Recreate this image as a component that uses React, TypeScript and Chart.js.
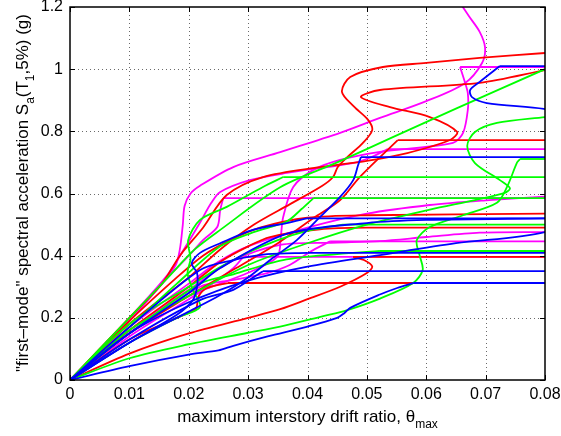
import React, { useEffect, useRef } from 'react';
import { Chart, registerables } from 'chart.js';

Chart.register(...registerables);

type Pt = [number, number];

const X_MIN = 0;
const X_MAX = 0.08;
const X_STEP = 0.01;
const Y_MIN = 0;
const Y_MAX = 1.2;
const Y_STEP = 0.2;

const MAGENTA = '#ff00ff';
const RED = '#ff0000';
const GREEN = '#00ff00';
const BLUE = '#0000ff';

const FONT = '"Liberation Sans", Arial, Helvetica, sans-serif';

const X_TITLE: [string, boolean][] = [['maximum interstory drift ratio, θ', false], ['max', true]];
const Y_TITLE: [string, boolean][] = [
  ['"first\u2013mode" spectral acceleration S', false],
  ['a', true],
  ['(T', false],
  ['1', true],
  [',5%) (g)', false],
];

// ---- magenta records ----
const M_BIG: Pt[] = [[0, 0], [0.01, 0.19], [0.015, 0.3], [0.0178, 0.37], [0.0185, 0.42], [0.019, 0.5], [0.0193, 0.56], [0.0203, 0.6], [0.0219, 0.625], [0.0275, 0.685], [0.0354, 0.733], [0.0455, 0.795], [0.0522, 0.843], [0.06, 0.897], [0.0665, 0.955], [0.0694, 1.02], [0.0699, 1.07], [0.069, 1.12], [0.0672, 1.17], [0.0658, 1.21]];
const M_TOP: Pt[] = [[0, 0], [0.01, 0.16], [0.02, 0.27], [0.03, 0.345], [0.0349, 0.396], [0.0355, 0.46], [0.0359, 0.524], [0.0376, 0.621], [0.041, 0.676], [0.0455, 0.708], [0.0522, 0.734], [0.0645, 0.763], [0.0662, 0.795], [0.067, 0.869], [0.067, 0.923], [0.0665, 0.959], [0.0657, 1.007]];
const M_74: Pt[] = [[0, 0], [0.01, 0.2], [0.0165, 0.34], [0.0195, 0.43], [0.022, 0.51], [0.0238, 0.57], [0.0253, 0.605], [0.0303, 0.643], [0.0365, 0.666], [0.0476, 0.698], [0.0505, 0.715], [0.0535, 0.743]];
const M_59: Pt[] = [[0, 0], [0.01, 0.17], [0.02, 0.31], [0.025, 0.38], [0.03, 0.43], [0.04, 0.49], [0.05, 0.535], [0.0606, 0.563], [0.07, 0.578], [0.08, 0.59]];
const M_58: Pt[] = [[0, 0], [0.01, 0.19], [0.016, 0.32], [0.0205, 0.41], [0.0224, 0.45], [0.0248, 0.492], [0.0253, 0.547], [0.0258, 0.585]];
const M_47: Pt[] = [[0, 0], [0.01, 0.16], [0.02, 0.29], [0.027, 0.38], [0.0354, 0.435], [0.045, 0.442], [0.0522, 0.447], [0.06, 0.46], [0.069, 0.474], [0.08, 0.476]];
const M_44: Pt[] = [[0, 0], [0.01, 0.15], [0.0219, 0.3], [0.0275, 0.322], [0.0332, 0.344], [0.037, 0.37], [0.0404, 0.412], [0.0438, 0.446]];
const M_40: Pt[] = [[0, 0], [0.01, 0.14], [0.02, 0.26], [0.024, 0.31], [0.0275, 0.36], [0.0292, 0.396]];

// ---- red records ----
const R_TOP: Pt[] = [[0, 0], [0.01, 0.18], [0.02, 0.33], [0.0253, 0.42], [0.031, 0.5], [0.037, 0.565], [0.0425, 0.625], [0.0443, 0.653], [0.0451, 0.685], [0.0467, 0.717], [0.0493, 0.762], [0.0509, 0.804], [0.0502, 0.837], [0.0478, 0.88], [0.0458, 0.927], [0.0472, 0.975], [0.0527, 1.007], [0.06, 1.02], [0.069, 1.036], [0.08, 1.052]];
const R_99: Pt[] = [[0, 0], [0.01, 0.2], [0.0155, 0.31], [0.0185, 0.4], [0.0224, 0.49], [0.0264, 0.595], [0.0325, 0.653], [0.0421, 0.685], [0.05, 0.705], [0.0568, 0.73], [0.064, 0.772], [0.0652, 0.798], [0.0606, 0.846], [0.0539, 0.878], [0.049, 0.91], [0.0522, 0.933], [0.069, 0.956], [0.08, 0.997]];
const R_77: Pt[] = [[0, 0], [0.01, 0.15], [0.02, 0.27], [0.028, 0.36], [0.035, 0.44], [0.041, 0.521], [0.0455, 0.579], [0.0488, 0.653], [0.0552, 0.772]];
const R_53: Pt[] = [[0, 0], [0.01, 0.19], [0.018, 0.33], [0.0224, 0.4], [0.027, 0.45], [0.032, 0.49], [0.04, 0.522], [0.05, 0.53], [0.08, 0.535]];
const R_49: Pt[] = [[0, 0], [0.01, 0.16], [0.02, 0.3], [0.0253, 0.38], [0.03, 0.43], [0.0337, 0.46], [0.0421, 0.485], [0.05, 0.49], [0.08, 0.49]];
const R_40: Pt[] = [[0, 0], [0.01, 0.085], [0.02, 0.15], [0.03, 0.2], [0.0354, 0.228], [0.04, 0.26], [0.0455, 0.3], [0.05, 0.344], [0.0509, 0.365], [0.0495, 0.386], [0.0477, 0.396]];
const R_31: Pt[] = [[0, 0], [0.01, 0.13], [0.018, 0.2], [0.0212, 0.23], [0.0216, 0.267], [0.023, 0.295], [0.0266, 0.312]];

// ---- green records ----
const G_100: Pt[] = [[0, 0], [0.01, 0.2], [0.017, 0.34], [0.021, 0.42], [0.0253, 0.483], [0.0354, 0.62], [0.045, 0.7], [0.054, 0.778], [0.065, 0.873], [0.08, 1.0]];
const G_85: Pt[] = [[0, 0], [0.01, 0.16], [0.02, 0.27], [0.03, 0.37], [0.04, 0.44], [0.05, 0.5], [0.0606, 0.548], [0.0682, 0.579], [0.0731, 0.601], [0.0741, 0.617], [0.0724, 0.643], [0.0682, 0.698], [0.0669, 0.753], [0.0682, 0.798], [0.0719, 0.827], [0.08, 0.846]];
const G_71: Pt[] = [[0, 0], [0.01, 0.07], [0.02, 0.115], [0.03, 0.152], [0.0354, 0.172], [0.0425, 0.205], [0.0467, 0.225], [0.0522, 0.262], [0.0578, 0.312], [0.0594, 0.354], [0.0589, 0.4], [0.0584, 0.45], [0.0606, 0.492], [0.0662, 0.53], [0.0719, 0.57], [0.0736, 0.621], [0.0753, 0.7], [0.0758, 0.711]];
const G_65: Pt[] = [[0, 0], [0.01, 0.12], [0.018, 0.2], [0.0219, 0.235], [0.0207, 0.29], [0.0198, 0.344], [0.0203, 0.39], [0.0199, 0.45], [0.0219, 0.515], [0.0264, 0.557], [0.0325, 0.621], [0.0359, 0.653]];
const G_58: Pt[] = [[0, 0], [0.01, 0.17], [0.018, 0.31], [0.0253, 0.43], [0.0308, 0.475], [0.0365, 0.51], [0.039, 0.55], [0.041, 0.585]];
const G_50: Pt[] = [[0, 0], [0.01, 0.18], [0.02, 0.3], [0.025, 0.36], [0.03, 0.41], [0.035, 0.45], [0.04, 0.48], [0.046, 0.5]];
const G_41: Pt[] = [[0, 0], [0.01, 0.15], [0.0219, 0.31], [0.0275, 0.34], [0.0359, 0.386], [0.045, 0.405], [0.0522, 0.415]];

// ---- blue records ----
const B_101: Pt[] = [[0, 0], [0.01, 0.15], [0.02, 0.25], [0.03, 0.32], [0.04, 0.365], [0.0522, 0.402], [0.065, 0.44], [0.08, 0.476], [0.088, 0.55], [0.092, 0.7], [0.088, 0.84], [0.0798, 0.872], [0.0702, 0.891], [0.0677, 0.91], [0.0674, 0.933], [0.069, 0.959], [0.0724, 1.01]];
const B_72: Pt[] = [[0, 0], [0.01, 0.12], [0.02, 0.22], [0.025, 0.27], [0.03, 0.33], [0.0337, 0.386], [0.0382, 0.45], [0.0421, 0.524], [0.0455, 0.589], [0.0477, 0.643], [0.0485, 0.69], [0.049, 0.717]];
const B_52: Pt[] = [[0, 0], [0.01, 0.12], [0.018, 0.21], [0.0207, 0.257], [0.0214, 0.3], [0.0214, 0.344], [0.0205, 0.376], [0.0219, 0.409], [0.0253, 0.44], [0.0308, 0.483], [0.0365, 0.505], [0.0399, 0.52]];
const B_52B: Pt[] = [[0, 0], [0.01, 0.15], [0.02, 0.28], [0.0253, 0.36], [0.0365, 0.47], [0.05, 0.505], [0.06, 0.515], [0.08, 0.52]];
const B_41: Pt[] = [[0, 0], [0.01, 0.17], [0.0219, 0.354], [0.0275, 0.386], [0.0332, 0.405], [0.04, 0.409]];
const B_35: Pt[] = [[0, 0], [0.01, 0.13], [0.0219, 0.257], [0.0275, 0.29], [0.0315, 0.338], [0.0325, 0.35]];
const B_31: Pt[] = [[0, 0], [0.01, 0.045], [0.02, 0.082], [0.025, 0.095], [0.0275, 0.11], [0.0333, 0.14], [0.04, 0.172], [0.045, 0.2], [0.0462, 0.215], [0.0472, 0.232], [0.0522, 0.275], [0.0551, 0.296], [0.0578, 0.312]];

// drawn bottom -> top; plateau = curve continues flat to the right edge after its last point
const SERIES: { pts: Pt[]; color: string; plateau: boolean }[] = [
  { pts: M_BIG, color: MAGENTA, plateau: false },
  { pts: M_TOP, color: MAGENTA, plateau: true },
  { pts: M_74, color: MAGENTA, plateau: true },
  { pts: M_59, color: MAGENTA, plateau: false },
  { pts: M_58, color: MAGENTA, plateau: true },
  { pts: M_47, color: MAGENTA, plateau: false },
  { pts: M_44, color: MAGENTA, plateau: true },
  { pts: M_40, color: MAGENTA, plateau: true },
  { pts: R_TOP, color: RED, plateau: false },
  { pts: R_99, color: RED, plateau: false },
  { pts: R_77, color: RED, plateau: true },
  { pts: R_53, color: RED, plateau: false },
  { pts: R_49, color: RED, plateau: false },
  { pts: R_40, color: RED, plateau: true },
  { pts: R_31, color: RED, plateau: true },
  { pts: G_100, color: GREEN, plateau: false },
  { pts: G_85, color: GREEN, plateau: false },
  { pts: G_71, color: GREEN, plateau: true },
  { pts: G_65, color: GREEN, plateau: true },
  { pts: G_58, color: GREEN, plateau: true },
  { pts: G_50, color: GREEN, plateau: true },
  { pts: G_41, color: GREEN, plateau: true },
  { pts: B_101, color: BLUE, plateau: true },
  { pts: B_72, color: BLUE, plateau: true },
  { pts: B_52, color: BLUE, plateau: true },
  { pts: B_52B, color: BLUE, plateau: false },
  { pts: B_41, color: BLUE, plateau: true },
  { pts: B_35, color: BLUE, plateau: true },
  { pts: B_31, color: BLUE, plateau: true },
];

function drawRich(ctx: CanvasRenderingContext2D, parts: [string, boolean][], size: number) {
  const subSize = Math.round(size * 0.72);
  let total = 0;
  const widths = parts.map(([t, sub]) => {
    ctx.font = `${sub ? subSize : size}px ${FONT}`;
    const w = ctx.measureText(t).width;
    total += w;
    return w;
  });
  let x = -total / 2;
  parts.forEach(([t, sub], i) => {
    ctx.font = `${sub ? subSize : size}px ${FONT}`;
    ctx.fillText(t, x, sub ? size * 0.33 : 0);
    x += widths[i];
  });
}

const matlabAxes = {
  id: 'matlabAxes',
  beforeDatasetsDraw(chart: any) {
    const { ctx, chartArea } = chart;
    const { left, right, top, bottom } = chartArea;
    const xs = chart.scales.x;
    const ys = chart.scales.y;
    ctx.save();
    ctx.strokeStyle = '#6a6a6a';
    ctx.lineWidth = 1;
    ctx.setLineDash([1, 3]);
    ctx.beginPath();
    xs.ticks.forEach((t: any) => {
      if (t.value <= X_MIN + 1e-9 || t.value >= X_MAX - 1e-9) return;
      const p = Math.round(xs.getPixelForValue(t.value)) + 0.5;
      ctx.moveTo(p, top);
      ctx.lineTo(p, bottom);
    });
    ys.ticks.forEach((t: any) => {
      if (t.value <= Y_MIN + 1e-9 || t.value >= Y_MAX - 1e-9) return;
      const p = Math.round(ys.getPixelForValue(t.value)) + 0.5;
      ctx.moveTo(left, p);
      ctx.lineTo(right, p);
    });
    ctx.stroke();
    ctx.restore();
  },
  afterDraw(chart: any) {
    const { ctx, chartArea } = chart;
    const { left, right, top, bottom } = chartArea;
    const xs = chart.scales.x;
    const ys = chart.scales.y;
    ctx.save();
    ctx.setLineDash([]);
    ctx.strokeStyle = '#000';
    ctx.lineWidth = 1;
    ctx.beginPath();
    xs.ticks.forEach((t: any) => {
      const p = Math.round(xs.getPixelForValue(t.value)) + 0.5;
      ctx.moveTo(p, bottom);
      ctx.lineTo(p, bottom - 5);
      ctx.moveTo(p, top);
      ctx.lineTo(p, top + 5);
    });
    ys.ticks.forEach((t: any) => {
      const p = Math.round(ys.getPixelForValue(t.value)) + 0.5;
      ctx.moveTo(left, p);
      ctx.lineTo(left + 5, p);
      ctx.moveTo(right, p);
      ctx.lineTo(right - 5, p);
    });
    ctx.stroke();
    ctx.lineWidth = 1.5;
    ctx.strokeRect(Math.round(left), Math.round(top), Math.round(right - left), Math.round(bottom - top));

    ctx.fillStyle = '#000';
    ctx.textBaseline = 'alphabetic';
    ctx.textAlign = 'left';
    ctx.save();
    ctx.translate((left + right) / 2, 422);
    drawRich(ctx, X_TITLE, 17);
    ctx.restore();
    ctx.save();
    ctx.translate(28, 193);
    ctx.rotate(-Math.PI / 2);
    drawRich(ctx, Y_TITLE, 17);
    ctx.restore();
    ctx.restore();
  },
};

export default function App() {
  const ref = useRef<HTMLCanvasElement | null>(null);
  useEffect(() => {
    if (!ref.current) return;
    const datasets: any[] = [];
    SERIES.forEach((s, i) => {
      const order = 1000 - i;
      const base = {
        borderColor: s.color,
        backgroundColor: s.color,
        borderWidth: 1.8,
        pointRadius: 0,
        pointHoverRadius: 0,
        showLine: true,
        fill: false,
        order,
      };
      datasets.push({ ...base, data: s.pts.map(([x, y]) => ({ x, y })), tension: 0.3 });
      if (s.plateau) {
        const [lx, ly] = s.pts[s.pts.length - 1];
        datasets.push({ ...base, data: [{ x: lx, y: ly }, { x: X_MAX, y: ly }], tension: 0 });
      }
    });
    const chart = new Chart(ref.current, {
      type: 'scatter',
      data: { datasets },
      options: {
        animation: false,
        responsive: false,
        maintainAspectRatio: false,
        layout: { padding: { left: 0, right: 16, top: 7, bottom: 0 } },
        plugins: { legend: { display: false }, tooltip: { enabled: false }, title: { display: false } },
        events: [],
        scales: {
          x: {
            type: 'linear',
            min: X_MIN,
            max: X_MAX,
            grid: { display: false, drawTicks: false },
            border: { display: false },
            ticks: {
              stepSize: X_STEP,
              autoSkip: false,
              maxRotation: 0,
              padding: 5,
              color: '#000',
              font: { family: FONT, size: 16 },
              callback: (v: any) => (Math.abs(v) < 1e-9 ? '0' : Number(v).toFixed(2)),
            },
            afterFit: (s: any) => {
              s.height = 56;
              s.paddingLeft = 0;
              s.paddingRight = 0;
            },
          },
          y: {
            type: 'linear',
            min: Y_MIN,
            max: Y_MAX,
            grid: { display: false, drawTicks: false },
            border: { display: false },
            ticks: {
              stepSize: Y_STEP,
              autoSkip: false,
              padding: 7,
              color: '#000',
              font: { family: FONT, size: 16 },
              callback: (v: any) => String(Math.round(Number(v) * 10) / 10),
            },
            afterFit: (s: any) => {
              s.width = 70;
              s.paddingTop = 0;
              s.paddingBottom = 0;
            },
          },
        },
      },
      plugins: [matlabAxes],
    });
    return () => chart.destroy();
  }, []);
  return (
    <div style={{ position: 'fixed', left: 0, top: 0, width: 561, height: 436, background: '#fff' }}>
      <canvas ref={ref} width={561} height={436} style={{ width: 561, height: 436, display: 'block' }} />
    </div>
  );
}
